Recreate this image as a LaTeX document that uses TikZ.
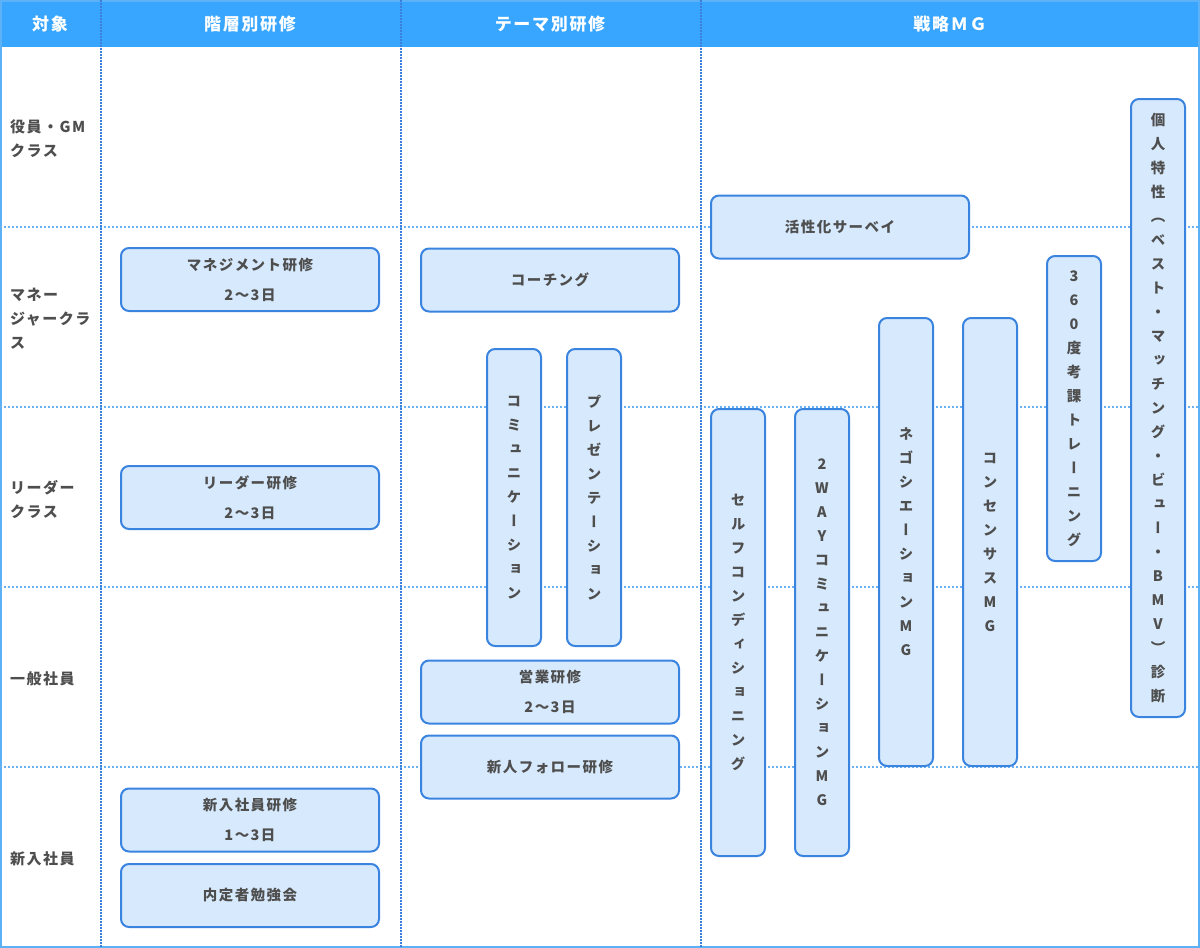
\documentclass[tikz,border=0pt]{standalone}
\usepackage{fontspec}
\setmainfont{Noto Sans CJK JP}[LetterSpace=10]
\newfontfamily\tatefont{Noto Sans CJK JP}[RawFeature=+vert]
\definecolor{headblue}{HTML}{38A6FF}
\definecolor{frameblue}{HTML}{5DB2F7}
\definecolor{colline}{HTML}{3A7FDB}
\definecolor{rowline}{HTML}{6CB1F2}
\definecolor{boxfill}{HTML}{D7EAFD}
\definecolor{boxline}{HTML}{3A84E0}
\definecolor{textgray}{HTML}{4E4E4E}
\begin{document}
\begin{tikzpicture}[x=1pt, y=-1pt,
        box/.style={draw=boxline, fill=boxfill, line width=2pt, rounded corners=8pt, text=textgray, align=center, inner sep=0pt,
            minimum width=258pt, minimum height=63pt, font=\bfseries\fontsize{14.5pt}{30pt}\selectfont},
        tate/.style={box, minimum width=54pt, font=\tatefont\bfseries\fontsize{14.5pt}{24pt}\selectfont},
        head/.style={text=white, inner sep=0pt, font=\bfseries\fontsize{17pt}{17pt}\selectfont},
        rowlabel/.style={anchor=west, align=left, inner sep=0pt, text=textgray, font=\bfseries\fontsize{15pt}{24pt}\selectfont}]
        \useasboundingbox (0,0) rectangle (1200,948);
        % header and frame
        \fill[headblue] (0,0) rectangle (1200,47);
        \draw[frameblue, line width=2pt] (1,1) rectangle (1199,947);
        % rows
        \draw[rowline, line width=1.5pt, dash pattern=on 2pt off 2pt] (0,227) -- (1200,227);
        \draw[rowline, line width=1.5pt, dash pattern=on 2pt off 2pt] (0,407) -- (1200,407);
        \draw[rowline, line width=1.5pt, dash pattern=on 2pt off 2pt] (0,587) -- (1200,587);
        \draw[rowline, line width=1.5pt, dash pattern=on 2pt off 2pt] (0,767) -- (1200,767);
        % columns
        \draw[colline, line width=1.5pt, dash pattern=on 1.5pt off 1.5pt] (101,0) -- (101,947);
        \draw[colline, line width=1.5pt, dash pattern=on 1.5pt off 1.5pt] (401,0) -- (401,947);
        \draw[colline, line width=1.5pt, dash pattern=on 1.5pt off 1.5pt] (701,0) -- (701,947);

        \node[head] (hTarget) at (50,24) {対象};
        \node[head] (hLevel) at (250,24) {階層別研修};
        \node[head] (hTheme) at (550,24) {テーマ別研修};
        \node[head] (hStrat) at (950,24) {戦略ＭＧ};

        \node[rowlabel] (rExec) at (10,138.5) {役員・GM\\クラス};
        \node[rowlabel] (rMgr) at (10,319) {マネー\\ジャークラ\\ス};
        \node[rowlabel] (rLead) at (10,499) {リーダー\\クラス};
        \node[rowlabel] (rStaff) at (10,679) {一般社員};
        \node[rowlabel] (rNew) at (10,859) {新入社員};

        \node[box] (mgmt) at (250,279.5) {マネジメント研修\\2〜3日};
        \node[box] (leader) at (250,497.5) {リーダー研修\\2〜3日};
        \node[box] (newhire) at (250,820) {新入社員研修\\1〜3日};
        \node[box] (naitei) at (250,895.5) {内定者勉強会};

        \node[box] (coach) at (550,280) {コーチング};
        \node[tate, minimum height=297pt] (comm) at (514,497.5) {コ\\ミ\\ュ\\ニ\\ケ\\ー\\シ\\ョ\\ン};
        \node[tate, minimum height=297pt] (pres) at (594,497.5) {プ\\レ\\ゼ\\ン\\テ\\ー\\シ\\ョ\\ン};
        \node[box] (sales) at (550,692) {営業研修\\2〜3日};
        \node[box] (follow) at (550,767) {新人フォロー研修};

        \node[box] (survey) at (840,227) {活性化サーベイ};
        \node[tate, minimum height=447pt] (selfcon) at (738,632.5) {セ\\ル\\フ\\コ\\ン\\デ\\ィ\\シ\\ョ\\ニ\\ン\\グ};
        \node[tate, minimum height=447pt] (twoway) at (822,632.5) {2\\W\\A\\Y\\コ\\ミ\\ュ\\ニ\\ケ\\ー\\シ\\ョ\\ン\\M\\G};
        \node[tate, minimum height=448pt] (nego) at (906,542) {ネ\\ゴ\\シ\\エ\\ー\\シ\\ョ\\ン\\M\\G};
        \node[tate, minimum height=448pt] (consensus) at (990,542) {コ\\ン\\セ\\ン\\サ\\ス\\M\\G};
        \node[tate, minimum height=305pt] (deg360) at (1074,408.5) {3\\6\\0\\度\\考\\課\\ト\\レ\\ー\\ニ\\ン\\グ};
        \node[tate, minimum height=618pt] (bmv) at (1158,408) {個\\人\\特\\性\\（\\ベ\\ス\\ト\\・\\マ\\ッ\\チ\\ン\\グ\\・\\ビ\\ュ\\ー\\・\\B\\M\\V\\）\\診\\断};
\end{tikzpicture}
\end{document}
